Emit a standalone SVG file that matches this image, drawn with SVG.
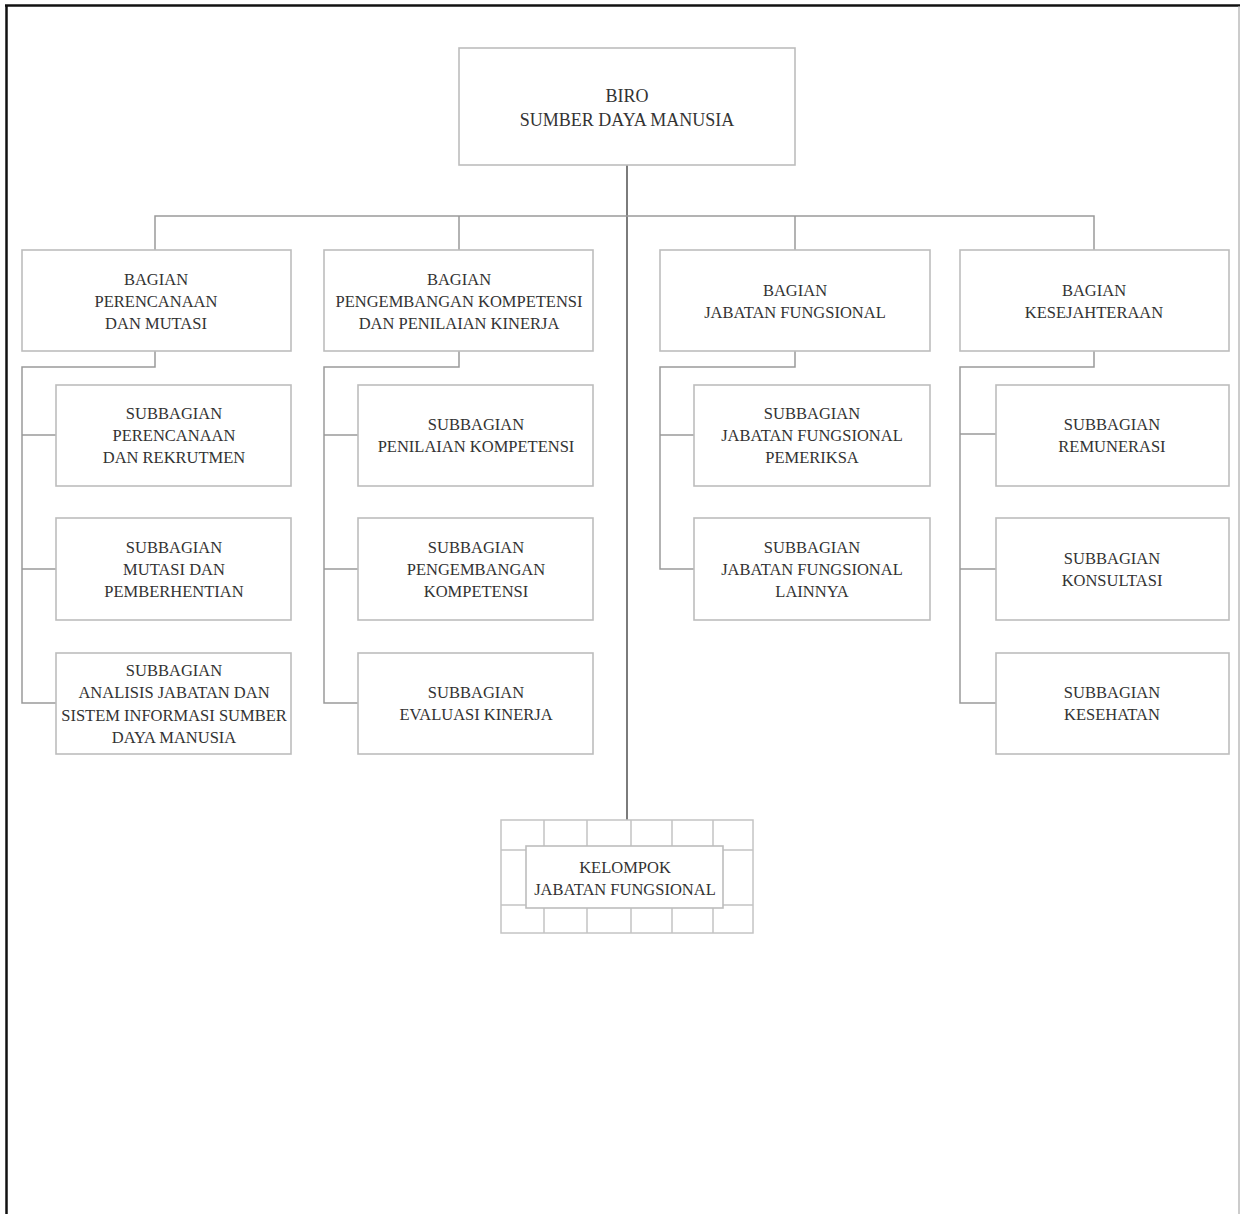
<svg xmlns="http://www.w3.org/2000/svg" width="1240" height="1214" viewBox="0 0 1240 1214">
<style>
.box{fill:#fff;stroke:#bdbdbd;stroke-width:1.6}
.t{font-family:"Liberation Serif","Times New Roman",serif;font-size:16.5px;fill:#333;text-anchor:middle}
.tt{font-size:18px}
.c{fill:none;stroke:#9a9a9a;stroke-width:1.5}
.trunk{fill:none;stroke:#444;stroke-width:1.4}
.grid{fill:none;stroke:#c4c4c4;stroke-width:1.5}
</style>
<rect x="0" y="0" width="1240" height="1214" fill="#fff"/>
<g id="frame">
<line x1="5" y1="5.5" x2="1240" y2="5.5" stroke="#111" stroke-width="2.5"/>
<line x1="6.5" y1="5" x2="6.5" y2="1214" stroke="#111" stroke-width="2.5"/>
<line x1="1239" y1="6" x2="1239" y2="1214" stroke="#aaa" stroke-width="1.2"/>
</g>
<g id="connectors">
<line class="trunk" x1="627" y1="165" x2="627" y2="820"/>
<path class="c" d="M155 250V216H1094V250M459 216V250M795 216V250"/>
<path class="c" d="M155 351V367H22V703H56M22 435H56M22 569H56"/>
<path class="c" d="M459 351V367H324V703H358M324 435H358M324 569H358"/>
<path class="c" d="M795 351V367H660V569H694M660 435H694"/>
<path class="c" d="M1094 351V367H960V703H996M960 434H996M960 569H996"/>
</g>
<g id="biro">
<rect class="box" x="459" y="48" width="336" height="117"/>
<text class="t tt" x="627" y="102">BIRO</text>
<text class="t tt" x="627" y="126">SUMBER DAYA MANUSIA</text>
</g>
<g id="bagian-perencanaan">
<rect class="box" x="22" y="250" width="269" height="101"/>
<text class="t" x="156" y="285">BAGIAN</text>
<text class="t" x="156" y="307">PERENCANAAN</text>
<text class="t" x="156" y="329">DAN MUTASI</text>
</g>
<g id="bagian-pengembangan">
<rect class="box" x="324" y="250" width="269" height="101"/>
<text class="t" x="459" y="285">BAGIAN</text>
<text class="t" x="459" y="307">PENGEMBANGAN KOMPETENSI</text>
<text class="t" x="459" y="329">DAN PENILAIAN KINERJA</text>
</g>
<g id="bagian-jabatan">
<rect class="box" x="660" y="250" width="270" height="101"/>
<text class="t" x="795" y="296">BAGIAN</text>
<text class="t" x="795" y="318">JABATAN FUNGSIONAL</text>
</g>
<g id="bagian-kesejahteraan">
<rect class="box" x="960" y="250" width="269" height="101"/>
<text class="t" x="1094" y="296">BAGIAN</text>
<text class="t" x="1094" y="318">KESEJAHTERAAN</text>
</g>
<g id="sub-perencanaan-rekrutmen">
<rect class="box" x="56" y="385" width="235" height="101"/>
<text class="t" x="174" y="419">SUBBAGIAN</text>
<text class="t" x="174" y="441">PERENCANAAN</text>
<text class="t" x="174" y="463">DAN REKRUTMEN</text>
</g>
<g id="sub-mutasi">
<rect class="box" x="56" y="518" width="235" height="102"/>
<text class="t" x="174" y="553">SUBBAGIAN</text>
<text class="t" x="174" y="575">MUTASI DAN</text>
<text class="t" x="174" y="597">PEMBERHENTIAN</text>
</g>
<g id="sub-analisis">
<rect class="box" x="56" y="653" width="235" height="101"/>
<text class="t" x="174" y="676">SUBBAGIAN</text>
<text class="t" x="174" y="698">ANALISIS JABATAN DAN</text>
<text class="t" x="174" y="721">SISTEM INFORMASI SUMBER</text>
<text class="t" x="174" y="743">DAYA MANUSIA</text>
</g>
<g id="sub-penilaian">
<rect class="box" x="358" y="385" width="235" height="101"/>
<text class="t" x="476" y="430">SUBBAGIAN</text>
<text class="t" x="476" y="452">PENILAIAN KOMPETENSI</text>
</g>
<g id="sub-pengembangan">
<rect class="box" x="358" y="518" width="235" height="102"/>
<text class="t" x="476" y="553">SUBBAGIAN</text>
<text class="t" x="476" y="575">PENGEMBANGAN</text>
<text class="t" x="476" y="597">KOMPETENSI</text>
</g>
<g id="sub-evaluasi">
<rect class="box" x="358" y="653" width="235" height="101"/>
<text class="t" x="476" y="698">SUBBAGIAN</text>
<text class="t" x="476" y="720">EVALUASI KINERJA</text>
</g>
<g id="sub-jf-pemeriksa">
<rect class="box" x="694" y="385" width="236" height="101"/>
<text class="t" x="812" y="419">SUBBAGIAN</text>
<text class="t" x="812" y="441">JABATAN FUNGSIONAL</text>
<text class="t" x="812" y="463">PEMERIKSA</text>
</g>
<g id="sub-jf-lainnya">
<rect class="box" x="694" y="518" width="236" height="102"/>
<text class="t" x="812" y="553">SUBBAGIAN</text>
<text class="t" x="812" y="575">JABATAN FUNGSIONAL</text>
<text class="t" x="812" y="597">LAINNYA</text>
</g>
<g id="sub-remunerasi">
<rect class="box" x="996" y="385" width="233" height="101"/>
<text class="t" x="1112" y="430">SUBBAGIAN</text>
<text class="t" x="1112" y="452">REMUNERASI</text>
</g>
<g id="sub-konsultasi">
<rect class="box" x="996" y="518" width="233" height="102"/>
<text class="t" x="1112" y="564">SUBBAGIAN</text>
<text class="t" x="1112" y="586">KONSULTASI</text>
</g>
<g id="sub-kesehatan">
<rect class="box" x="996" y="653" width="233" height="101"/>
<text class="t" x="1112" y="698">SUBBAGIAN</text>
<text class="t" x="1112" y="720">KESEHATAN</text>
</g>
<g id="kelompok-jf">
<rect class="grid" x="501" y="820" width="252" height="113"/>
<path class="grid" d="M501 850H753M501 905H753M544 820V933M587 820V933M631 820V933M672 820V933M713 820V933"/>
<rect class="box" x="526" y="846" width="197" height="62"/>
<text class="t" x="625" y="873">KELOMPOK</text>
<text class="t" x="625" y="895">JABATAN FUNGSIONAL</text>
</g>
</svg>
